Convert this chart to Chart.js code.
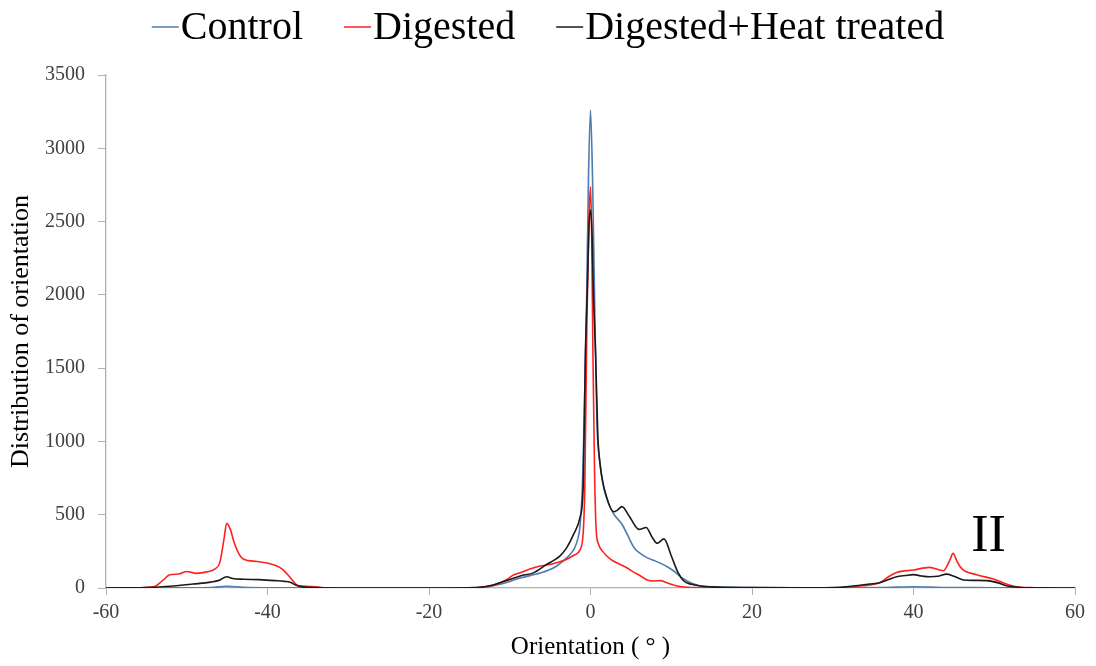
<!DOCTYPE html>
<html>
<head>
<meta charset="utf-8">
<script src="https://cdn.jsdelivr.net/npm/chart.js@4.4.1/dist/chart.umd.min.js"></script>
<style>
html,body{margin:0;padding:0;background:#fff;}
#wrap{width:1096px;height:666px;position:relative;}
</style>
</head>
<body>
<div id="wrap"><canvas id="c" width="1096" height="666"></canvas></div>
<script>
// ---- Data ----
const seriesNames = ["Control", "Digested", "Digested+Heat treated"];
const xTicks = [-60, -40, -20, 0, 20, 40, 60];
const yTicks = [0, 500, 1000, 1500, 2000, 2500, 3000, 3500];

const controlX = [-60,-50,-47,-45,-43,-38,-35,-20,-14,-12.5,-11.2,-10,-8.7,-6.25,-4.5,-3.4,-2.5,-2,-1.6,-1.3,-1,-0.8,-0.5,-0.25,0,0.25,0.5,0.8,1.1,1.65,2.2,2.9,3.9,4.6,5.4,6.2,7.0,8.0,8.7,9.5,10.3,11.3,12.4,13.5,15,20,30,36,40,44,50,54,60];
const controlY = [0,1,3,12,5,1,0,0,3,10,25,45,68,102,140,184,230,270,330,420,700,1118,1900,2800,3260,2800,2000,1118,888,684,580,503,435,360,275,235,207,185,168,145,116,70,36,15,8,3,2,3,9,3,2,0,0];

const digestedX = [-60,-56,-54.1,-53,-52.1,-51,-50,-48.8,-47.5,-46.5,-45.9,-45.4,-45.05,-44.6,-44.2,-43.6,-43,-41.3,-40,-38.5,-37.9,-37.2,-36.2,-34.5,-33,-30,-20,-15,-13.5,-12.3,-11.2,-10.3,-9.5,-8.7,-7.5,-6.25,-5,-4,-2.95,-2,-1.3,-0.9,-0.7,-0.45,-0.2,0,0.15,0.3,0.5,0.7,1.0,1.5,2.5,3.5,4.5,5.3,6.2,7,8,8.67,9.3,10,10.7,12,15,20,30,32.5,34.5,35.9,37,37.9,40,42,43.7,44.5,44.9,45.4,46,47.8,49.9,51.5,52.7,55,60];
const digestedY = [0,2,8,50,90,95,113,100,110,130,175,330,441,400,323,240,198,181,170,141,115,72,16,10,2,0,0,1,5,15,36,60,90,104,130,150,160,175,196,225,260,380,700,1800,2500,2738,2400,1600,800,400,298,250,196,165,138,110,82,55,48,50,40,25,14,5,2,0,2,9,20,38,80,106,123,141,118,190,236,180,130,91,61,27,9,2,0];

const heatX = [-60,-55,-52.6,-49.2,-47,-46,-45.05,-44.3,-43,-41,-39,-37.9,-37.2,-36.5,-36,-34,-30,-20,-14,-12.5,-11.2,-10,-8.7,-7,-5.4,-4.5,-3.8,-3,-2.1,-1.3,-0.9,-0.64,-0.4,-0.2,0,0.2,0.35,0.64,0.9,1.24,2,2.9,3.3,3.9,4.8,6.0,6.9,7.6,8.26,9.1,10,10.8,11.55,12.5,13.6,15,20,25,30,32,34.6,35.9,37,37.9,39,40,41,42,43,44.1,45,46.2,47.5,49.1,50.5,51.5,53,55,60];
const heatY = [0,3,10,27,40,52,77,65,60,57,50,45,39,20,10,3,0,0,3,15,36,58,82,105,162,190,218,270,366,482,700,1578,2030,2450,2579,2400,2030,1578,1050,820,620,520,530,555,490,400,413,350,305,335,220,110,48,25,14,8,3,1,3,10,27,38,60,77,85,91,82,77,80,95,80,55,52,50,35,16,5,1,0];

const annotationText = "II";

// ---- Build chart ----
const toPts = (xs, ys) => xs.map((x, i) => ({x: x, y: ys[i]}));
const colors = ["#4f7bb0", "#ff2020", "#1a1a1a"];
const SERIF = "'Liberation Serif', 'Times New Roman', serif";

const legendPlugin = {
  id: 'customLegend',
  afterDraw(chart) {
    const ctx = chart.ctx;
    ctx.save();
    ctx.font = "40px " + SERIF;
    const lineLen = 27, gapText = 2, gapItem = 41;
    const widths = seriesNames.map(n => ctx.measureText(n).width);
    let total = 0;
    widths.forEach((w, i) => { total += lineLen + gapText + w + (i < widths.length - 1 ? gapItem : 0); });
    let x = (chart.width - total) / 2;
    const y = 27;
    chart.data.datasets.forEach((ds, i) => {
      ctx.strokeStyle = ds.borderColor;
      ctx.lineWidth = 1.5;
      ctx.beginPath(); ctx.moveTo(x, y); ctx.lineTo(x + lineLen, y); ctx.stroke();
      x += lineLen + gapText;
      ctx.fillStyle = "#000";
      ctx.textBaseline = "middle";
      ctx.textAlign = "left";
      ctx.fillText(seriesNames[i], x, y + 1);
      x += widths[i] + gapItem;
    });
    // annotation
    const xs = chart.scales.x, ys = chart.scales.y;
    ctx.font = "52px " + SERIF;
    ctx.textAlign = "center";
    ctx.textBaseline = "alphabetic";
    ctx.fillStyle = "#000";
    ctx.fillText(annotationText, xs.getPixelForValue(49.3), ys.getPixelForValue(255));
    ctx.restore();
  }
};

new Chart(document.getElementById('c'), {
  type: 'line',
  data: {
    datasets: [
      {label: seriesNames[0], data: toPts(controlX, controlY), borderColor: colors[0], order: 3},
      {label: seriesNames[1], data: toPts(digestedX, digestedY), borderColor: colors[1], order: 2},
      {label: seriesNames[2], data: toPts(heatX, heatY), borderColor: colors[2], order: 1}
    ].map(d => Object.assign(d, {borderWidth: 1.6, pointRadius: 0, fill: false, cubicInterpolationMode: 'monotone'}))
  },
  options: {
    responsive: false,
    animation: false,
    layout: {padding: {top: 75, right: 21, left: 0, bottom: 0}},
    plugins: {legend: {display: false}, tooltip: {enabled: false}},
    scales: {
      x: {
        type: 'linear', min: -60, max: 60,
        afterBuildTicks: s => { s.ticks = xTicks.map(v => ({value: v})); },
        afterFit: s => { s.height = 78; },
        grid: {drawOnChartArea: false, drawTicks: true, tickLength: 7, color: '#b0b0b0'},
        border: {display: true, color: '#b0b0b0', width: 1.3},
        ticks: {font: {family: SERIF, size: 20}, color: '#404040', padding: 6, maxRotation: 0, callback: v => String(v)},
        title: {display: true, text: 'Orientation ( ° )', font: {family: SERIF, size: 25}, color: '#000', padding: {top: 4}}
      },
      y: {
        type: 'linear', min: 0, max: 3500,
        afterBuildTicks: s => { s.ticks = yTicks.map(v => ({value: v})); },
        afterFit: s => { s.width = 106; },
        grid: {drawOnChartArea: false, drawTicks: true, tickLength: 8, color: '#b0b0b0'},
        border: {display: true, color: '#b0b0b0', width: 1.3},
        ticks: {font: {family: SERIF, size: 20}, color: '#404040', padding: 13, callback: v => String(v)},
        title: {display: true, text: 'Distribution of orientation', font: {family: SERIF, size: 26}, color: '#000', padding: {top: 6, bottom: 0}}
      }
    }
  },
  plugins: [legendPlugin]
});
</script>
</body>
</html>
